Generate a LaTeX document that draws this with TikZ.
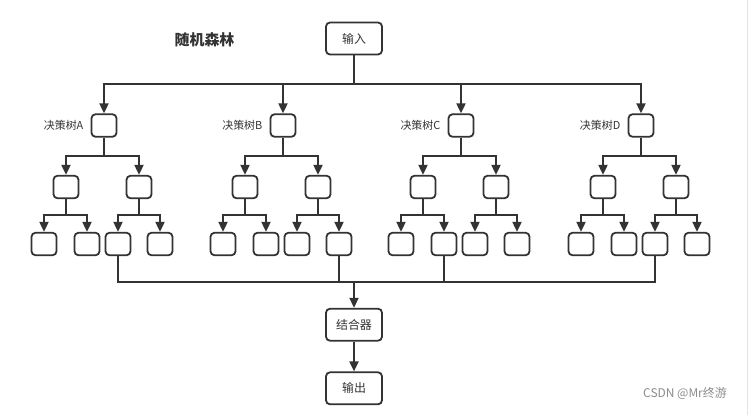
\documentclass[tikz,border=0pt]{standalone}
\usepackage{fontspec}
\setmainfont{Noto Sans CJK SC}
\usetikzlibrary{arrows.meta}
\definecolor{ink}{HTML}{333333}
\definecolor{wm}{HTML}{8C8C8C}
\begin{document}
\begin{tikzpicture}[x=1bp,y=-1bp,
  box/.style={draw=ink, line width=1.8bp, rounded corners=4bp, minimum width=25bp, minimum height=22.5bp, inner sep=0pt},
  bigbox/.style={box, minimum width=56bp, minimum height=32bp, text=ink, font=\fontsize{12}{14}\selectfont},
  lbl/.style={text=ink, font=\fontsize{11}{13}\selectfont, inner sep=0pt},
  conn/.style={draw=ink, line width=1.9bp},
  arr/.style={conn, -{Triangle[length=10bp,width=9bp]}}]
\useasboundingbox (0,0) rectangle (748,415);
\fill[white] (0,0) rectangle (748,415);
\draw[color={rgb,255:red,228;green,230;blue,218}, line width=1bp] (747.5,0) -- (747.5,415);

\node[text=ink, font=\fontsize{15}{17}\selectfont\bfseries] (title) at (204.5,40) {随机森林};
\node[bigbox] (in) at (354,38.5) {输入};
\coordinate (bus) at (354,84);
\draw[conn] (in.south) -- (bus);

\foreach \n/\cx/\lab in {A/104/决策树A, B/283/决策树B, C/461/决策树C, D/641/决策树D}{
  \node[box] (r\n) at (\cx,125.5) {};
  \node[lbl, anchor=east] (t\n) at ([xshift=-7bp]r\n.west) {\lab};
  \draw[arr] (bus) -| (r\n.north);
  \node[box] (m\n1) at (\cx-38,187) {};
  \node[box] (m\n2) at (\cx+35,187) {};
  \coordinate (b\n) at (\cx,156);
  \draw[arr] (r\n.south) -- (b\n) -| (m\n1.north);
  \draw[arr] (b\n) -| (m\n2.north);
  \node[box] (k\n1) at (\cx-60,244) {};
  \node[box] (k\n2) at (\cx-17,244) {};
  \node[box] (k\n3) at (\cx+14,244) {};
  \node[box] (k\n4) at (\cx+56,244) {};
  \coordinate (c\n1) at (\cx-38,215);
  \coordinate (c\n2) at (\cx+35,215);
  \draw[arr] (m\n1.south) -- (c\n1) -| (k\n1.north);
  \draw[arr] (c\n1) -| (k\n2.north);
  \draw[arr] (m\n2.south) -- (c\n2) -| (k\n3.north);
  \draw[arr] (c\n2) -| (k\n4.north);
}

\node[bigbox] (comb) at (354,324.7) {结合器};
\node[bigbox] (out) at (354,388.3) {输出};
\coordinate (cbus) at (354,282);
\draw[conn] (kA3.south) |- (cbus);
\draw[conn] (kB4.south) |- (cbus);
\draw[conn] (kC2.south) |- (cbus);
\draw[conn] (kD3.south) |- (cbus);
\draw[arr] (cbus) -- (comb.north);
\draw[arr] (comb.south) -- (out.north);

\node[text=wm, font=\fontsize{12}{14}\selectfont, inner sep=0pt] (wmk) at (685,393) {CSDN @Mr终游};
\end{tikzpicture}
\end{document}
